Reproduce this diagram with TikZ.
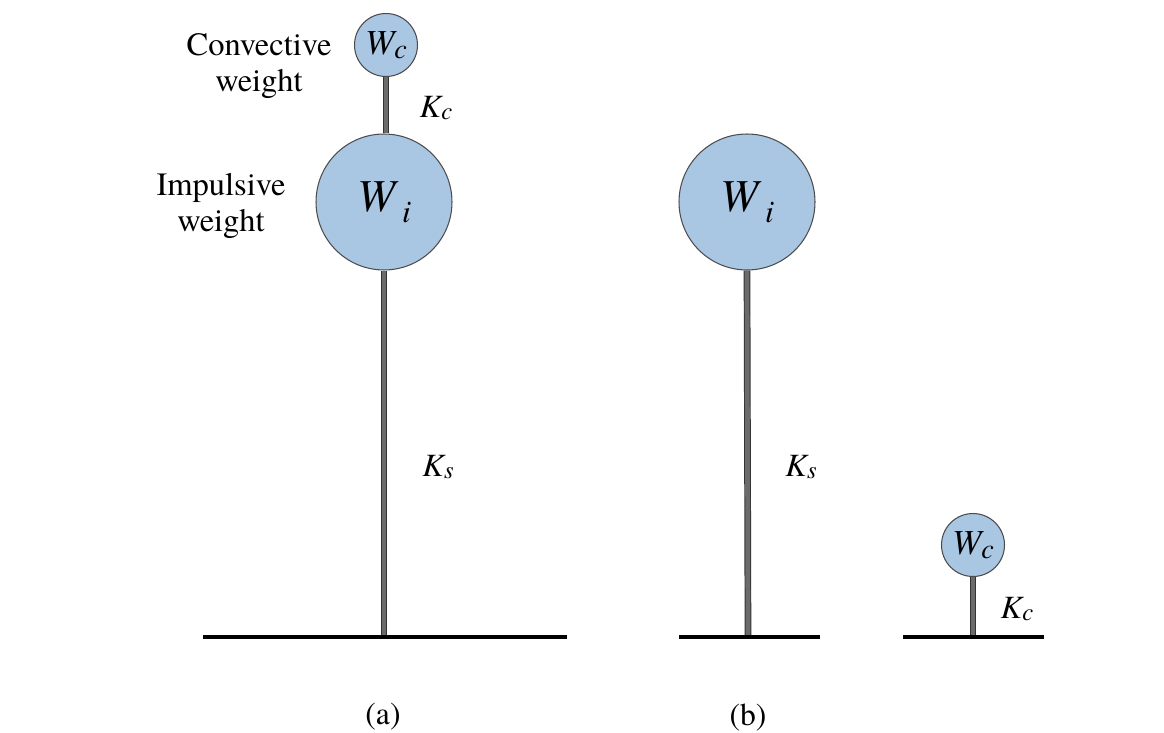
\documentclass[tikz,border=0pt]{standalone}
\usepackage{fontspec}
\setmainfont{texgyretermes}[Extension=.otf,UprightFont=*-regular,ItalicFont=*-italic,BoldFont=*-bold,BoldItalicFont=*-bolditalic]
\definecolor{massblue}{RGB}{169,198,227}
\tikzset{
  mass/.style={circle,draw=black!70,line width=0.6pt,fill=massblue,inner sep=0pt},
  bigmass/.style={mass,minimum size=2.72cm},
  smallmass/.style={mass,minimum size=1.26cm},
  stemthick/.style={draw=black!80,line width=0.55pt,double=black!58,double distance=2.7pt},
  stemthin/.style={draw=black!80,line width=0.5pt,double=black!58,double distance=2.0pt},
  groundline/.style={draw=black,line width=2.1pt},
  lbl/.style={inner sep=0pt,font=\fontsize{18.5}{22}\selectfont},
  symb/.style={inner sep=0pt,font=\fontsize{18.5}{22}\selectfont\itshape},
  captext/.style={inner sep=0pt,font=\fontsize{18}{20}\selectfont}
}
\newcommand{\bigW}[1]{{\fontsize{26}{26}\selectfont\itshape W}\hspace{4pt}\raisebox{-6pt}{\fontsize{18}{18}\selectfont\itshape #1}}
\newcommand{\smallW}[1]{{\fontsize{20}{20}\selectfont\itshape W}\raisebox{-2pt}{\fontsize{16}{16}\selectfont\itshape #1}}
\newcommand{\stiff}[1]{K\raisebox{-1.5pt}{\fontsize{14}{14}\selectfont #1}}
\begin{document}
\begin{tikzpicture}[x=0.02cm,y=-0.02cm]
\useasboundingbox (0,0) rectangle (1164,733);

% ---------------- panel (a)
\coordinate (gaL) at (203,637);
\coordinate (gaR) at (567,637);
\coordinate (ga) at (384,637);
\node[lbl] (conv1) at (259,45) {Convective};
\node[lbl] (conv2) at (259,84) {weight};
\node[lbl] (imp1) at (221,188) {Impulsive};
\node[lbl] (imp2) at (221,224) {weight};
\node[bigmass] (Wia) at (384,202) {\bigW{i}};
\node[smallmass] (Wca) at (386,45) {\smallW{c}};
\draw[stemthick] (Wia.south) -- (ga);
\draw[stemthin] (Wca.south) -- (Wia.north -| Wca.south);
\draw[groundline] (gaL) -- (gaR);
\node[symb] (kca) at (436,108) {\stiff{c}};
\node[symb] (ksa) at (438,467) {\stiff{s}};
\node[captext] (capa) at (383,717) {(a)};

% ---------------- panel (b)
\coordinate (gbL) at (679,637);
\coordinate (gbR) at (820,637);
\coordinate (gb) at (748,637);
\node[bigmass] (Wib) at (747,202) {\bigW{i}};
\draw[stemthick] (Wib.south) -- (gb);
\draw[groundline] (gbL) -- (gbR);
\node[symb] (ksb) at (801,467) {\stiff{s}};

\coordinate (gcL) at (903,637);
\coordinate (gcR) at (1044,637);
\coordinate (gc) at (973,637);
\node[smallmass] (Wcb) at (973,545) {\smallW{c}};
\draw[stemthin] (Wcb.south) -- (gc);
\draw[groundline] (gcL) -- (gcR);
\node[symb] (kcb) at (1017,609) {\stiff{c}};
\node[captext] (capb) at (748,717) {(b)};
\end{tikzpicture}
\end{document}
